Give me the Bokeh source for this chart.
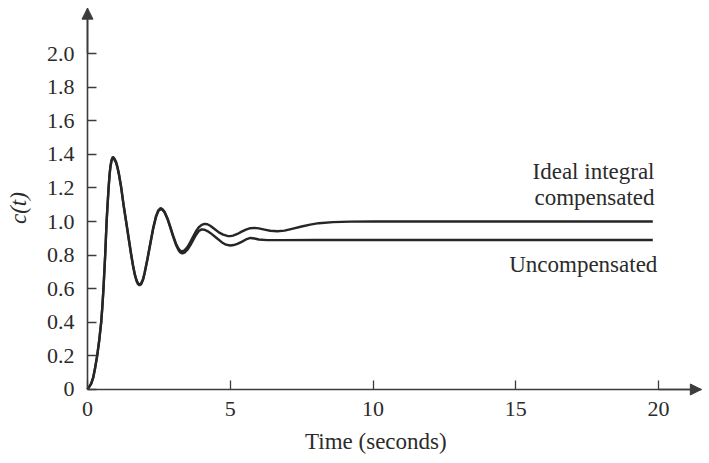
import math
from bokeh.plotting import figure
from bokeh.models import Range1d, FixedTicker, Arrow, NormalHead, Label, LinearAxis
from bokeh.embed import file_html
from bokeh.resources import INLINE

# ---- data ----
t_uncomp = [0.0, 0.13, 0.2, 0.27, 0.34, 0.41, 0.48, 0.52, 0.56, 0.59, 0.62, 0.645, 0.67, 0.70,
            0.74, 0.77, 0.80, 0.84, 0.89, 0.94, 1.0, 1.05, 1.1, 1.18, 1.26, 1.35, 1.44, 1.53,
            1.6, 1.66, 1.72, 1.77, 1.82, 1.88, 1.95, 2.0, 2.1, 2.2, 2.3, 2.4, 2.48, 2.56, 2.63,
            2.7, 2.8, 2.9, 3.0, 3.1, 3.2, 3.26, 3.32, 3.4, 3.5, 3.6, 3.7, 3.8, 3.9, 4.0, 4.1,
            4.2, 4.3, 4.5, 4.7, 4.85, 5.0, 5.12, 5.25, 5.4, 5.55, 5.71, 5.85, 6.0, 6.3, 6.8,
            8.0, 10.0, 15.0, 19.8]
c_uncomp = [0.0, 0.034, 0.07, 0.13, 0.2, 0.29, 0.4, 0.49, 0.6, 0.7, 0.8, 0.9, 1.0, 1.09,
            1.2, 1.27, 1.32, 1.36, 1.38, 1.37, 1.35, 1.32, 1.28, 1.2, 1.1, 1.0, 0.9, 0.8,
            0.73, 0.68, 0.645, 0.627, 0.62, 0.627, 0.655, 0.69, 0.774, 0.866, 0.956, 1.027, 1.062, 1.075, 1.068,
            1.053, 1.015, 0.964, 0.910, 0.861, 0.826, 0.814, 0.81, 0.815, 0.832, 0.858, 0.889, 0.92, 0.943, 0.953, 0.951,
            0.943, 0.932, 0.905, 0.877, 0.862, 0.857, 0.86, 0.867, 0.879, 0.893, 0.902, 0.899, 0.893, 0.889, 0.889,
            0.89, 0.89, 0.89, 0.89]

t_ideal = [0.0, 0.13, 0.2, 0.27, 0.34, 0.41, 0.48, 0.52, 0.56, 0.59, 0.62, 0.645, 0.67, 0.70,
           0.74, 0.77, 0.80, 0.84, 0.89, 0.94, 1.0, 1.05, 1.1, 1.18, 1.26, 1.35, 1.44, 1.53,
           1.6, 1.66, 1.72, 1.77, 1.82, 1.88, 1.95, 2.0, 2.1, 2.2, 2.3, 2.4, 2.48, 2.56, 2.63,
           2.7, 2.8, 2.9, 3.0, 3.1, 3.2, 3.26, 3.32, 3.4, 3.5, 3.6, 3.7, 3.8, 3.9, 4.0, 4.1,
           4.2, 4.3, 4.45, 4.6, 4.75, 4.9, 5.0, 5.1, 5.25, 5.4, 5.55, 5.7, 5.85, 6.0, 6.2,
           6.4, 6.65, 6.9, 7.2, 7.5, 7.8, 8.1, 8.6, 9.2, 10.0, 15.0, 19.8]
c_ideal = [0.0, 0.036, 0.072, 0.133, 0.203, 0.293, 0.403, 0.493, 0.603, 0.703, 0.803, 0.903, 1.003, 1.093,
           1.203, 1.273, 1.325, 1.365, 1.385, 1.375, 1.355, 1.325, 1.285, 1.205, 1.105, 1.005, 0.905, 0.805,
           0.735, 0.685, 0.65, 0.632, 0.625, 0.632, 0.66, 0.695, 0.779, 0.871, 0.961, 1.032, 1.067, 1.08, 1.073,
           1.058, 1.02, 0.969, 0.915, 0.868, 0.835, 0.825, 0.822, 0.828, 0.848, 0.877, 0.91, 0.942, 0.966, 0.98, 0.986,
           0.984, 0.975, 0.955, 0.935, 0.922, 0.914, 0.913, 0.916, 0.926, 0.94, 0.952, 0.96, 0.962, 0.959, 0.952,
           0.945, 0.942, 0.946, 0.958, 0.97, 0.981, 0.99, 0.996, 0.999, 1.0, 1.0, 1.0]

x_ticks = [0, 5, 10, 15, 20]
x_tick_labels = ["0", "5", "10", "15", "20"]
y_ticks = [0, 0.2, 0.4, 0.6, 0.8, 1.0, 1.2, 1.4, 1.6, 1.8, 2.0]
y_tick_labels = ["0", "0.2", "0.4", "0.6", "0.8", "1.0", "1.2", "1.4", "1.6", "1.8", "2.0"]

x_title = "Time (seconds)"
y_title = "c(t)"
curve_names = ["Ideal integral", "compensated", "Uncompensated"]

FONT = "Liberation Serif"
INK = "#2b2b2b"
AXIS = "#3c3c3c"

X_END = 21.5    # end of the time axis arrow
Y_END = 2.27    # end of the c(t) axis arrow

p = figure(width=709, height=463, output_backend="svg", toolbar_location=None,
           x_axis_location=None, y_axis_location=None,
           x_range=Range1d(-3.047, 21.786), y_range=Range1d(-0.4405, 2.3155),
           min_border=0)
p.outline_line_color = None
p.grid.visible = False
p.background_fill_color = "white"
p.border_fill_color = "white"

xax = LinearAxis(fixed_location=0, bounds=(0, X_END))
yax = LinearAxis(fixed_location=0, bounds=(0, Y_END))
p.add_layout(xax, "below")
p.add_layout(yax, "left")

for ax in (xax, yax):
    ax.axis_line_color = AXIS
    ax.axis_line_width = 1.6
    ax.major_tick_line_color = AXIS
    ax.major_tick_line_width = 1.3
    ax.major_tick_in = 9
    ax.major_tick_out = 0
    ax.minor_tick_line_color = None
    ax.major_label_text_font = FONT
    ax.major_label_text_font_size = "22px"
    ax.major_label_text_color = INK
    ax.major_label_standoff = 13

xax.ticker = FixedTicker(ticks=x_ticks)
xax.major_label_overrides = {t: s for t, s in zip(x_ticks, x_tick_labels)}
yax.ticker = FixedTicker(ticks=y_ticks)
yax.major_label_overrides = {t: s for t, s in zip(y_ticks, y_tick_labels)}

# curves
p.line(t_ideal, c_ideal, line_color="#262626", line_width=2.4)
p.line(t_uncomp, c_uncomp, line_color="#262626", line_width=2.4)

# axis arrows
p.add_layout(Arrow(end=NormalHead(size=11, fill_color=AXIS, line_color=AXIS, line_width=1),
                   x_start=0, y_start=2.0, x_end=0, y_end=Y_END,
                   line_color=AXIS, line_width=1.6))
p.add_layout(Arrow(end=NormalHead(size=11, fill_color=AXIS, line_color=AXIS, line_width=1),
                   x_start=20, y_start=0, x_end=X_END, y_end=0,
                   line_color=AXIS, line_width=1.6))

# titles
p.add_layout(Label(x=10.1, y=-0.31, text=x_title, text_font=FONT, text_font_size="23px",
                   text_color=INK, text_align="center", text_baseline="middle"))
p.add_layout(Label(x=-2.42, y=1.08, text=y_title, angle=math.pi / 2, text_font=FONT,
                   text_font_size="23px", text_font_style="italic", text_color=INK,
                   text_align="center", text_baseline="middle"))

# curve annotations
p.add_layout(Label(x=19.86, y=1.298, text=curve_names[0], text_font=FONT, text_font_size="23px",
                   text_color=INK, text_align="right", text_baseline="middle"))
p.add_layout(Label(x=19.86, y=1.143, text=curve_names[1], text_font=FONT, text_font_size="23px",
                   text_color=INK, text_align="right", text_baseline="middle"))
p.add_layout(Label(x=19.96, y=0.744, text=curve_names[2], text_font=FONT, text_font_size="23px",
                   text_color=INK, text_align="right", text_baseline="middle"))

open("out.html", "w").write(file_html(p, INLINE))
